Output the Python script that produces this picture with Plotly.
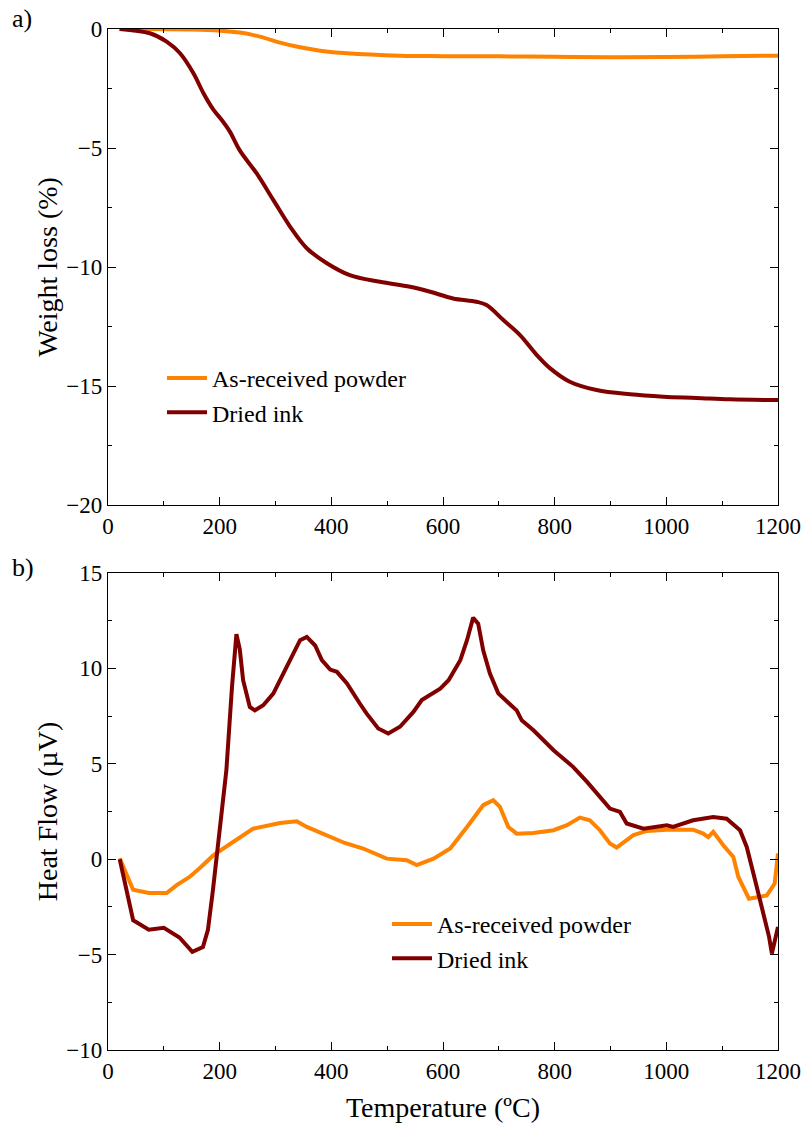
import plotly.graph_objects as go

# --- TGA: weight loss (%) vs temperature (°C) ---
tga_powder_T = [20, 75, 150, 201, 236, 272, 308, 344, 380, 428, 523, 600, 700, 800, 900, 1000, 1100, 1200]
tga_powder_w = [0.0, 0.0, -0.02, -0.07, -0.15, -0.32, -0.57, -0.77, -0.91, -1.02, -1.12, -1.14, -1.15, -1.17, -1.19, -1.18, -1.15, -1.12]

tga_ink_T = [21, 75, 105, 129, 153, 171, 189, 203, 218, 236, 266, 296, 326, 356, 392, 433, 487, 541, 577,
             618, 660, 678, 708, 738, 768, 792, 827, 875, 935, 995, 1054, 1114, 1200]
tga_ink_w = [0.0, -0.18, -0.53, -1.02, -1.86, -2.7, -3.4, -3.8, -4.3, -5.1, -6.06, -7.18, -8.3, -9.21, -9.84,
             -10.34, -10.62, -10.83, -11.04, -11.32, -11.46, -11.6, -12.23, -12.86, -13.7, -14.26, -14.82,
             -15.17, -15.35, -15.45, -15.5, -15.56, -15.59]

# --- DTA: heat flow (µV) vs temperature (°C) ---
dta_powder_T = [21, 45, 73, 105, 123, 146, 165, 189, 224, 260, 308, 338, 356, 392, 424, 457, 499, 535, 553,
                583, 613, 643, 672, 690, 702, 717, 732, 762, 798, 822, 845, 863, 881, 899, 911, 941, 965,
                1001, 1048, 1066, 1075, 1084, 1102, 1120, 1129, 1148, 1165, 1180, 1194, 1200]
dta_powder_h = [0.05, -1.6, -1.77, -1.77, -1.36, -0.93, -0.45, 0.21, 0.9, 1.6, 1.9, 1.99, 1.69, 1.26, 0.85,
                0.56, 0.03, -0.05, -0.31, 0.03, 0.56, 1.69, 2.83, 3.09, 2.74, 1.69, 1.34, 1.37, 1.52, 1.78,
                2.18, 2.04, 1.52, 0.82, 0.61, 1.26, 1.48, 1.55, 1.55, 1.34, 1.16, 1.43, 0.73, 0.12, -0.93,
                -2.07, -2.0, -1.9, -1.28, 0.3]

dta_ink_T = [21, 45, 73, 100, 128, 151, 170, 179, 188, 200, 212, 222, 230, 236, 242, 254, 263, 278, 296,
             320, 344, 356, 371, 383, 398, 410, 428, 451, 463, 484, 502, 523, 547, 562, 583, 595, 610,
             631, 643, 654, 663, 672, 684, 699, 717, 732, 741, 762, 798, 833, 858, 881, 899, 917, 929,
             959, 1001, 1012, 1048, 1084, 1108, 1132, 1144, 1159, 1172, 1184, 1189, 1195, 1200]
dta_ink_h = [0.0, -3.2, -3.7, -3.6, -4.1, -4.85, -4.6, -3.7, -1.6, 1.5, 4.66, 9.0, 11.8, 11.0, 9.38, 7.98,
             7.8, 8.07, 8.68, 10.08, 11.48, 11.65, 11.2, 10.43, 9.94, 9.82, 9.21, 8.16, 7.64, 6.85, 6.59,
             6.94, 7.72, 8.34, 8.69, 8.94, 9.38, 10.43, 11.48, 12.66, 12.34, 10.95, 9.73, 8.69, 8.2, 7.8,
             7.28, 6.76, 5.71, 4.84, 4.05, 3.27, 2.65, 2.48, 1.87, 1.6, 1.78, 1.69, 2.04, 2.21, 2.12,
             1.52, 0.64, -1.1, -2.6, -4.07, -4.94, -4.2, -3.55]

ORANGE = "#FF8300"
DARKRED = "#800000"
FONT = "Liberation Serif"

fig = go.Figure()

fig.add_trace(go.Scatter(x=tga_powder_T, y=tga_powder_w, mode="lines", name="As-received powder",
                         line=dict(color=ORANGE, width=4, shape="spline"), xaxis="x", yaxis="y",
                         legend="legend"))
fig.add_trace(go.Scatter(x=tga_ink_T, y=tga_ink_w, mode="lines", name="Dried ink",
                         line=dict(color=DARKRED, width=4, shape="spline"), xaxis="x", yaxis="y",
                         legend="legend"))
fig.add_trace(go.Scatter(x=dta_powder_T, y=dta_powder_h, mode="lines", name="As-received powder",
                         line=dict(color=ORANGE, width=4), xaxis="x2", yaxis="y2",
                         legend="legend2"))
fig.add_trace(go.Scatter(x=dta_ink_T, y=dta_ink_h, mode="lines", name="Dried ink",
                         line=dict(color=DARKRED, width=4), xaxis="x2", yaxis="y2",
                         legend="legend2"))

axis_common = dict(
    showline=True, linecolor="black", linewidth=1.2, mirror="ticks",
    ticks="inside", ticklen=8, tickwidth=1.2, tickcolor="black",
    showgrid=False, zeroline=False, automargin=False,
    tickfont=dict(family=FONT, size=23, color="black"),
    minor=dict(ticks="inside", ticklen=4, tickwidth=1.2, tickcolor="black", showgrid=False),
)

top_dom = [(1050 - 505) / 1021, 1.0]
bot_dom = [0.0, (1050 - 573) / 1021]
title_font = dict(family=FONT, size=28, color="black")
legend_font = dict(family=FONT, size=24, color="black")

fig.update_layout(
    width=803, height=1130,
    margin=dict(l=108, r=25, t=29, b=80),
    paper_bgcolor="white", plot_bgcolor="white",
    font=dict(family=FONT, color="black", size=23),
    xaxis=dict(**axis_common, domain=[0, 1], anchor="y", range=[0, 1200], dtick=200,
               minor_dtick=100),
    yaxis=dict(**axis_common, domain=top_dom, anchor="x", range=[-20, 0], dtick=5,
               minor_dtick=2.5,
               title=dict(text="Weight loss (%)", font=title_font, standoff=0)),
    xaxis2=dict(**axis_common, domain=[0, 1], anchor="y2", range=[0, 1200], dtick=200,
                minor_dtick=100,
                title=dict(text="Temperature (ºC)", font=title_font, standoff=14)),
    yaxis2=dict(**axis_common, domain=bot_dom, anchor="x2", range=[-10, 15], dtick=5,
                minor_dtick=2.5,
                title=dict(text="Heat Flow (µV)", font=title_font, standoff=0)),
    legend=dict(x=(162 - 108) / 670, y=(1050 - 356) / 1021, xanchor="left", yanchor="top",
                bgcolor="rgba(0,0,0,0)", font=legend_font, tracegroupgap=0, itemwidth=40),
    legend2=dict(x=(387 - 108) / 670, y=(1050 - 902) / 1021, xanchor="left", yanchor="top",
                 bgcolor="rgba(0,0,0,0)", font=legend_font, tracegroupgap=0, itemwidth=40),
    annotations=[
        dict(text="a)", x=(10 - 108) / 670, y=(1050 - 18) / 1021, xref="paper", yref="paper",
             xanchor="left", yanchor="middle", showarrow=False, font=dict(family=FONT, size=26)),
        dict(text="b)", x=(10 - 108) / 670, y=(1050 - 567) / 1021, xref="paper", yref="paper",
             xanchor="left", yanchor="middle", showarrow=False, font=dict(family=FONT, size=26)),
    ],
)

fig.write_html("out.html")
